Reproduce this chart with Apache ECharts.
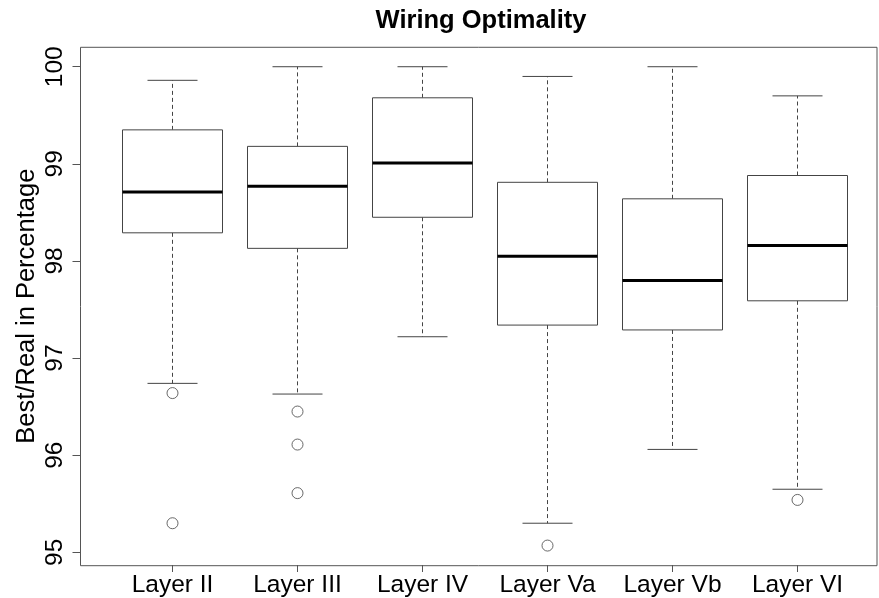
<!DOCTYPE html>
<html><head><meta charset="utf-8">
<script src="https://cdn.jsdelivr.net/npm/echarts@6/dist/echarts.min.js"></script>
<style>html,body{margin:0;padding:0;background:#fff}#c{width:879px;height:598px}</style>
</head><body><div id="c"></div>
<script>
const categories = ['Layer II', 'Layer III', 'Layer IV', 'Layer Va', 'Layer Vb', 'Layer VI'];
const lowerWhisker = [96.74, 96.63, 97.22, 95.30, 96.06, 95.65];
const q1 = [98.29, 98.13, 98.45, 97.34, 97.29, 97.59];
const median = [98.71, 98.77, 99.01, 98.05, 97.80, 98.16];
const q3 = [99.35, 99.18, 99.68, 98.81, 98.64, 98.88];
const upperWhisker = [99.86, 100.0, 100.0, 99.90, 100.0, 99.70];
const outlierCategory = [0, 0, 1, 1, 1, 3, 5];
const outlierValue = [96.64, 95.30, 96.45, 96.11, 95.61, 95.07, 95.54];
const yTicks = [95, 96, 97, 98, 99, 100];
const titleText = 'Wiring Optimality';
const yName = 'Best/Real in Percentage';

const boxData = categories.map((c, i) => [i, lowerWhisker[i], q1[i], median[i], q3[i], upperWhisker[i]]);
const outlierData = outlierCategory.map((ci, k) => [ci, outlierValue[k]]);

const FONT = 'Liberation Sans, Arial, sans-serif';
const chart = echarts.init(document.getElementById('c'), null, {renderer: 'canvas'});
chart.setOption({
  animation: false,
  backgroundColor: '#ffffff',
  title: {
    text: titleText, left: 476, top: 3, textAlign: 'center',
    textStyle: {fontFamily: FONT, fontSize: 25.5, fontWeight: 'bold', color: '#000'}
  },
  grid: [
    {left: 110, right: 19, top: 47.3, bottom: 32.3},
    {left: 80.5, right: 2, top: 47.3, bottom: 32.3, show: true, borderColor: '#555', borderWidth: 1, backgroundColor: 'transparent', z: 10}
  ],
  xAxis: [
    {
      type: 'category', gridIndex: 0, data: categories, boundaryGap: true,
      axisLine: {show: false},
      axisTick: {show: true, alignWithLabel: true, interval: 0, length: 7, lineStyle: {color: '#555'}},
      axisLabel: {interval: 0, fontFamily: FONT, fontSize: 24.5, color: '#000', margin: 8},
      splitLine: {show: false}
    },
    {type: 'value', gridIndex: 1, show: false, min: 0, max: 1}
  ],
  yAxis: [
    {
      type: 'value', gridIndex: 0, min: 94.87, max: 100.2, offset: 29.5,
      axisLine: {show: false},
      axisTick: {show: true, customValues: yTicks, length: 8, lineStyle: {color: '#555'}},
      axisLabel: {customValues: yTicks, rotate: 90, fontFamily: FONT, fontSize: 24.5, color: '#000', margin: 13},
      splitLine: {show: false},
      name: yName, nameLocation: 'middle', nameRotate: 90, nameGap: 41, nameMoveOverlap: false,
      nameTextStyle: {fontFamily: FONT, fontSize: 25.5, color: '#000'}
    },
    {type: 'value', gridIndex: 1, show: false, min: 0, max: 1}
  ],
  series: [
    {
      type: 'custom', xAxisIndex: 0, yAxisIndex: 0,
      data: boxData,
      encode: {x: 0, y: [1, 2, 3, 4, 5]},
      renderItem: function (params, api) {
        const i = api.value(0);
        const band = api.size([1, 0])[0];
        const bw = band * 0.8, cw = band * 0.4;
        const pLo = api.coord([i, api.value(1)]);
        const pQ1 = api.coord([i, api.value(2)]);
        const pMed = api.coord([i, api.value(3)]);
        const pQ3 = api.coord([i, api.value(4)]);
        const pHi = api.coord([i, api.value(5)]);
        const x = pMed[0];
        const dash = {stroke: '#444', lineWidth: 1, lineDash: [4, 3]};
        const solid = {stroke: '#444', lineWidth: 1};
        return {
          type: 'group',
          children: [
            {type: 'line', shape: {x1: x, y1: pQ3[1], x2: x, y2: pHi[1]}, style: dash},
            {type: 'line', shape: {x1: x, y1: pQ1[1], x2: x, y2: pLo[1]}, style: dash},
            {type: 'line', shape: {x1: x - cw / 2, y1: pHi[1], x2: x + cw / 2, y2: pHi[1]}, style: solid},
            {type: 'line', shape: {x1: x - cw / 2, y1: pLo[1], x2: x + cw / 2, y2: pLo[1]}, style: solid},
            {type: 'rect', shape: {x: x - bw / 2, y: pQ3[1], width: bw, height: pQ1[1] - pQ3[1]}, style: {fill: '#fff', stroke: '#444', lineWidth: 1}},
            {type: 'line', shape: {x1: x - bw / 2, y1: pMed[1], x2: x + bw / 2, y2: pMed[1]}, style: {stroke: '#000', lineWidth: 3}}
          ]
        };
      }
    },
    {
      type: 'scatter', xAxisIndex: 0, yAxisIndex: 0,
      data: outlierData, symbol: 'circle', symbolSize: 11,
      itemStyle: {color: '#fff', borderColor: '#444', borderWidth: 1}
    }
  ]
});
</script>
</body></html>
